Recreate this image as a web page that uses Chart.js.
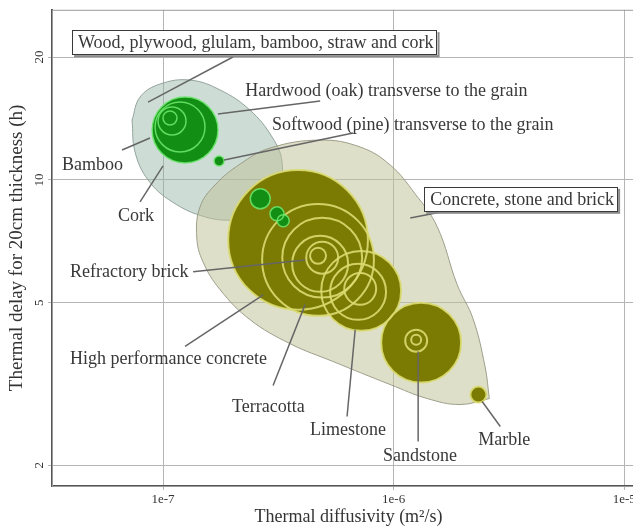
<!DOCTYPE html>
<html>
<head>
<meta charset="utf-8">
<script src="https://cdn.jsdelivr.net/npm/chart.js@4/dist/chart.umd.min.js"></script>
<style>
  html, body { margin: 0; padding: 0; overflow: hidden; background: #fff; }
  canvas { display: block; }
</style>
</head>
<body>
<canvas id="delayChart" width="660" height="526"></canvas>
<script>
// Thermal delay for a 20 cm wall vs thermal diffusivity, log-log axes
const diffusivityTicks = [1e-7, 1e-6, 1e-5];
const diffusivityTickLabels = ["1e-7", "1e-6", "1e-5"];
const delayTicks = [2, 5, 10, 20];

// family envelopes (closed outlines)
const woodEnvelopeX = [7.34e-8, 7.95e-8, 9.7e-8, 1.31e-7, 1.77e-7, 2.38e-7, 2.97e-7, 3.28e-7, 3.15e-7, 2.69e-7, 2.05e-7, 1.52e-7, 1.094e-7, 8.61e-8, 7.56e-8, 7.34e-8];
const woodEnvelopeY = [14.02, 15.96, 17.17, 17.56, 16.6, 14.83, 12.74, 11.07, 9.35, 8.35, 7.99, 8.12, 8.84, 10.0, 11.71, 14.02];
const mineralEnvelopeX = [2.6e-6, 2.49e-6, 2.21e-6, 1.886e-6, 1.545e-6, 1.24e-6, 9.66e-7, 7.16e-7, 4.8e-7, 2.91e-7, 2.16e-7, 1.68e-7, 1.447e-7, 1.4e-7, 1.49e-7, 1.77e-7, 2.38e-7, 3.56e-7, 5.47e-7, 9.66e-7, 1.4e-6, 1.94e-6, 2.6e-6];
const mineralEnvelopeY = [2.914, 3.49, 4.57, 5.54, 7.68, 9.24, 10.88, 12.04, 12.52, 11.97, 10.94, 9.72, 8.59, 7.25, 6.3, 5.38, 4.55, 3.97, 3.59, 3.154, 2.914, 2.818, 2.914];

// materials: diffusivity (m²/s), delay (h), delay spread (decades)
const woodDiffusivity = [1.246e-7, 1.185e-7, 1.094e-7, 1.072e-7, 1.75e-7, 2.64e-7, 3.12e-7, 3.32e-7];
const woodDelay = [13.25, 13.48, 13.94, 14.18, 11.13, 8.99, 8.26, 7.94];
const woodSpread = [0.0807, 0.0611, 0.0342, 0.0171, 0.0122, 0.0244, 0.0171, 0.0147];

const mineralDiffusivity = [3.85e-7, 4.7e-7, 4.9e-7, 4.8e-7, 4.9e-7, 4.7e-7, 7.23e-7, 7.01e-7, 7.16e-7, 1.316e-6, 1.252e-6, 1.252e-6, 2.33e-6];
const mineralDelay = [7.13, 6.37, 6.45, 6.23, 6.45, 6.52, 5.35, 5.32, 5.41, 3.995, 4.04, 4.06, 2.98];
const mineralSpread = [0.1711, 0.1369, 0.0978, 0.0685, 0.0391, 0.0196, 0.0978, 0.0685, 0.0391, 0.0978, 0.0269, 0.0122, 0.0196];

// callouts
const labelText = [
  "Wood, plywood, glulam, bamboo, straw and cork",
  "Hardwood (oak) transverse to the grain",
  "Softwood (pine) transverse to the grain",
  "Bamboo",
  "Cork",
  "Concrete, stone and brick",
  "Refractory brick",
  "High performance concrete",
  "Terracotta",
  "Limestone",
  "Sandstone",
  "Marble"
];
const labelBoxed = [true, false, false, false, false, true, false, false, false, false, false, false];
const labelX = [4.28e-8, 2.27e-7, 2.97e-7, 3.65e-8, 6.38e-8, 1.44e-6, 3.95e-8, 3.95e-8, 1.99e-7, 4.34e-7, 9.0e-7, 2.33e-6];
const labelY = [21.75, 16.6, 13.7, 10.94, 8.21, 8.99, 5.96, 3.65, 2.786, 2.447, 2.114, 2.313];
const leaderFromX = [2.01e-7, 4.8e-7, 6.67e-7, 6.64e-8, 7.95e-8, 1.71e-6, 1.35e-7, 1.246e-7, 3.0e-7, 6.28e-7, 1.277e-6, 2.9e-6];
const leaderFromY = [20.0, 15.6, 13.03, 11.84, 8.84, 8.4, 5.96, 3.91, 3.136, 2.634, 2.288, 2.489];
const leaderToX = [8.61e-8, 1.73e-7, 1.84e-7, 8.78e-8, 1.0e-7, 1.18e-6, 4.13e-7, 2.72e-7, 4.13e-7, 6.81e-7, 1.277e-6, 2.42e-6];
const leaderToY = [15.51, 14.5, 11.19, 12.67, 10.82, 8.07, 6.37, 5.23, 4.95, 4.3, 3.8, 2.866];

const SERIF = '"Liberation Serif", "Times New Roman", serif';

function toPoints(xs, ys, spreads) {
  return xs.map((x, i) => ({ x, y: ys[i], spread: spreads ? spreads[i] : 0 }));
}

// circle radius follows the delay spread on the y scale
function spreadRadius(ctx) {
  const raw = ctx.raw;
  const y = ctx.chart.scales.y;
  if (!raw || !y) return 0;
  const r = Math.abs(y.getPixelForValue(raw.y) - y.getPixelForValue(raw.y * Math.pow(10, raw.spread)));
  return Number.isFinite(r) ? r : 0;
}

const woodPoints = toPoints(woodDiffusivity, woodDelay, woodSpread);
const mineralPoints = toPoints(mineralDiffusivity, mineralDelay, mineralSpread);

// fills and rings go in separate datasets so every ring stays visible
function circles(label, data, fill, ring, ringWidth, order) {
  return {
    label,
    data,
    pointRadius: spreadRadius,
    pointBackgroundColor: fill,
    pointBorderColor: ring,
    pointBorderWidth: ringWidth,
    order
  };
}

const framePlugin = {
  id: "frame",
  beforeDatasetsDraw(chart) {
    const { ctx, chartArea: a } = chart;
    ctx.save();
    ctx.strokeStyle = "#9a9a9a";
    ctx.lineWidth = 1;
    ctx.strokeRect(a.left + 0.5, a.top + 0.5, a.right - a.left, a.bottom - a.top);
    ctx.restore();
  }
};

const calloutPlugin = {
  id: "callouts",
  afterDatasetsDraw(chart) {
    const { ctx } = chart;
    const { x, y } = chart.scales;
    ctx.save();
    ctx.strokeStyle = "#666";
    ctx.lineWidth = 1.5;
    labelText.forEach((t, i) => {
      ctx.beginPath();
      ctx.moveTo(x.getPixelForValue(leaderFromX[i]), y.getPixelForValue(leaderFromY[i]));
      ctx.lineTo(x.getPixelForValue(leaderToX[i]), y.getPixelForValue(leaderToY[i]));
      ctx.stroke();
    });
    ctx.font = "18px " + SERIF;
    ctx.textBaseline = "middle";
    ctx.textAlign = "left";
    labelText.forEach((t, i) => {
      const px = x.getPixelForValue(labelX[i]);
      const py = y.getPixelForValue(labelY[i]);
      if (labelBoxed[i]) {
        const w = ctx.measureText(t).width;
        ctx.fillStyle = "#8a8a8a";
        ctx.fillRect(px - 4, py - 10, w + 10, 25);
        ctx.fillStyle = "#fff";
        ctx.fillRect(px - 6, py - 12, w + 10, 25);
        ctx.strokeStyle = "#3a3a3a";
        ctx.lineWidth = 1;
        ctx.strokeRect(Math.round(px - 6) + 0.5, Math.round(py - 12) + 0.5, Math.round(w + 9), 24);
      }
      ctx.fillStyle = "#383838";
      ctx.fillText(t, px, py + 1);
    });
    ctx.restore();
  }
};

new Chart(document.getElementById("delayChart"), {
  type: "scatter",
  data: {
    datasets: [
      circles("wood rings", woodPoints, "transparent", "rgba(105,228,105,0.9)", 1.5, 0),
      circles("wood", woodPoints, "#128e14", "#128e14", 0, 1),
      circles("mineral rings", mineralPoints, "transparent", "rgba(218,218,112,0.9)", 2, 2),
      circles("mineral", mineralPoints, "#7b7b04", "#7b7b04", 0, 3),
      {
        type: "line",
        label: "Concrete, stone and brick",
        data: toPoints(mineralEnvelopeX, mineralEnvelopeY),
        borderColor: "rgba(150,150,130,0.9)",
        borderWidth: 1,
        backgroundColor: "rgba(192,194,152,0.52)",
        fill: "shape",
        tension: 0.4,
        pointRadius: 0,
        order: 4
      },
      {
        type: "line",
        label: "Wood, plywood, glulam, bamboo, straw and cork",
        data: toPoints(woodEnvelopeX, woodEnvelopeY),
        borderColor: "rgba(140,155,150,0.9)",
        borderWidth: 1,
        backgroundColor: "rgba(145,180,165,0.45)",
        fill: "shape",
        tension: 0.4,
        pointRadius: 0,
        order: 5
      }
    ]
  },
  options: {
    responsive: false,
    animation: false,
    events: [],
    layout: { autoPadding: false, padding: { left: 0, top: 7, right: 15, bottom: 0 } },
    plugins: { legend: { display: false }, tooltip: { enabled: false } },
    scales: {
      x: {
        type: "logarithmic",
        bounds: "data",
        min: 3.3e-8,
        max: 1.23e-5,
        afterBuildTicks: (s) => { s.ticks = diffusivityTicks.map((v) => ({ value: v })); },
        afterFit: (s) => { s.height = 40; },
        ticks: {
          callback: (v, i) => diffusivityTickLabels[i],
          font: { family: SERIF, size: 13 },
          color: "#333",
          minRotation: 0,
          maxRotation: 0,
          padding: 2
        },
        grid: { color: "#b5b5b5", tickLength: 4 },
        border: { color: "#555", width: 2 },
        title: {
          display: true,
          text: "Thermal diffusivity (m²/s)",
          font: { family: SERIF, size: 18, lineHeight: 1 },
          color: "#333",
          padding: { top: 0, bottom: 0 }
        }
      },
      y: {
        type: "logarithmic",
        bounds: "data",
        min: 1.78,
        max: 26.1,
        afterBuildTicks: (s) => { s.ticks = delayTicks.map((v) => ({ value: v })); },
        afterFit: (s) => { s.width = 52; },
        ticks: {
          callback: (v) => String(v),
          font: { family: SERIF, size: 13 },
          color: "#333",
          minRotation: 90,
          maxRotation: 90,
          crossAlign: "center",
          padding: 2
        },
        grid: { color: "#b5b5b5", tickLength: 4 },
        border: { color: "#555", width: 2 },
        title: {
          display: true,
          text: "Thermal delay for 20cm thickness (h)",
          font: { family: SERIF, size: 19, lineHeight: 1 },
          color: "#333",
          padding: { top: 8, bottom: 0 }
        }
      }
    }
  },
  plugins: [framePlugin, calloutPlugin]
});
</script>
</body>
</html>
